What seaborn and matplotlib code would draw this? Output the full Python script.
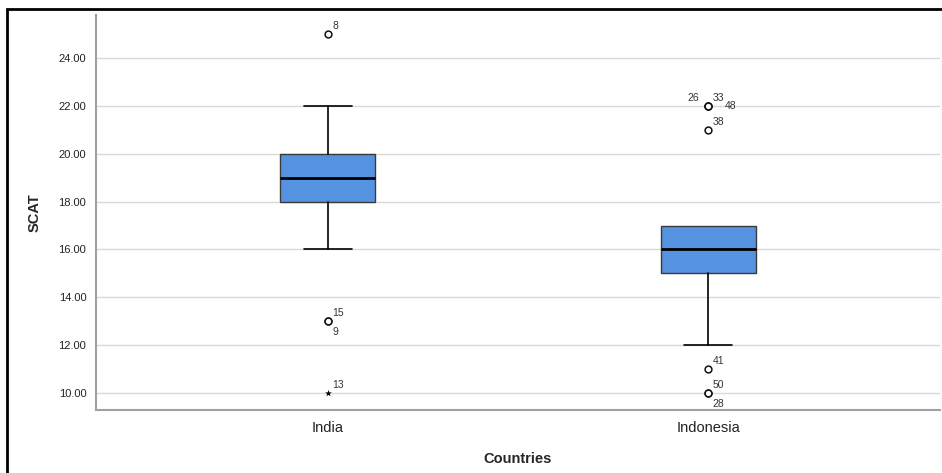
import numpy as np
import pandas as pd
import matplotlib
matplotlib.use("Agg")
import matplotlib.pyplot as plt
import seaborn as sns
from matplotlib.patches import Rectangle

# --- Data ---
countries = ["India", "Indonesia"]
q1 = [18, 15]
medians = [19, 16]
q3 = [20, 17]
whisker_low = [16, 12]
whisker_high = [22, 17]

outlier_country = ["India", "India", "India", "Indonesia", "Indonesia", "Indonesia",
                   "Indonesia", "Indonesia", "Indonesia", "Indonesia"]
outlier_value = [25, 13, 13, 22, 22, 22, 21, 11, 10, 10]
outlier_case = ["8", "15", "9", "26", "33", "48", "38", "41", "50", "28"]

extreme_country = ["India"]
extreme_value = [10]
extreme_case = ["13"]

# label offsets (points) for the case numbers
outlier_offsets = [(3, 2), (3, 2), (3, -4), (-15, 2), (3, 2), (12, 0),
                   (3, 2), (3, 2), (3, 2), (3, -4)]
outlier_va = ["bottom", "bottom", "top", "bottom", "bottom", "center",
              "bottom", "bottom", "bottom", "top"]
extreme_offsets = [(3, 2)]

sns.set_style("white")
plt.rcParams["font.family"] = ["Liberation Sans", "DejaVu Sans"]

fig = plt.figure(figsize=(9.42, 4.73), dpi=100)
ax = fig.add_axes([96 / 942, 1 - 410 / 473, 844 / 942, 395 / 473])

# --- boxes ---
stats = []
for i, c in enumerate(countries):
    stats.append({"label": c, "q1": q1[i], "med": medians[i], "q3": q3[i],
                  "whislo": whisker_low[i], "whishi": whisker_high[i], "fliers": []})
parts = ax.bxp(stats, positions=range(len(countries)), widths=0.25, patch_artist=True,
               showfliers=False,
               boxprops=dict(facecolor="#5592e0", edgecolor="#3a3a3a", linewidth=1),
               medianprops=dict(color="black", linewidth=2),
               whiskerprops=dict(color="black", linewidth=1.2),
               capprops=dict(color="black", linewidth=1.2),
               capwidths=0.125, zorder=3)
# no cap where the whisker has zero length
for i in range(len(countries)):
    if whisker_high[i] == q3[i]:
        parts["caps"][2 * i + 1].set_visible(False)
    if whisker_low[i] == q1[i]:
        parts["caps"][2 * i].set_visible(False)

# --- outliers ---
pos = {c: i for i, c in enumerate(countries)}
out_df = pd.DataFrame({"x": [pos[c] for c in outlier_country], "y": outlier_value})
ext_df = pd.DataFrame({"x": [pos[c] for c in extreme_country], "y": extreme_value})
sns.scatterplot(data=out_df, x="x", y="y", ax=ax, marker="o", s=24,
                facecolor="white", edgecolor="#111111", linewidth=1.1, zorder=4)
sns.scatterplot(data=ext_df, x="x", y="y", ax=ax, marker="*", s=26,
                color="black", linewidth=0, zorder=4)

for x, y, t, off, va in zip(out_df["x"], out_df["y"], outlier_case, outlier_offsets, outlier_va):
    ax.annotate(t, (x, y), xytext=off, textcoords="offset points",
                fontsize=7.5, color="#333333", ha="left", va=va)
for x, y, t, off in zip(ext_df["x"], ext_df["y"], extreme_case, extreme_offsets):
    ax.annotate(t, (x, y), xytext=off, textcoords="offset points",
                fontsize=7.5, color="#333333", ha="left", va="bottom")

# --- axes ---
ax.set_xlim(-0.61, 1.61)
ax.set_ylim(9.29, 25.8)
ax.set_yticks(np.arange(10, 25, 2))
ax.set_yticklabels([f"{v:.2f}" for v in np.arange(10, 25, 2)], fontsize=8, color="#222222")
ax.set_xticks(range(len(countries)))
ax.set_xticklabels(countries, fontsize=10.5, color="#222222")
ax.tick_params(axis="y", length=5, width=1, color="#a0a0a0", pad=2)
ax.tick_params(axis="x", length=0, pad=8)
ax.yaxis.grid(True, color="#d9d9d9", linewidth=1)
ax.set_axisbelow(True)
for s in ["top", "right"]:
    ax.spines[s].set_visible(False)
for s in ["left", "bottom"]:
    ax.spines[s].set_color("#a0a0a0")
    ax.spines[s].set_linewidth(1.5)

ax.set_xlabel("Countries", fontsize=10.5, fontweight="bold", labelpad=12)
ax.set_ylabel("SCAT", fontsize=10.5, fontweight="bold", labelpad=12)

# outer frame like the SPSS chart border
fig.patches.append(Rectangle((7 / 942, -0.1), 1.2, 1 - 9 / 473 + 0.1, fill=False,
                             edgecolor="black", linewidth=2, transform=fig.transFigure))

fig.savefig("out.png", dpi=100)
